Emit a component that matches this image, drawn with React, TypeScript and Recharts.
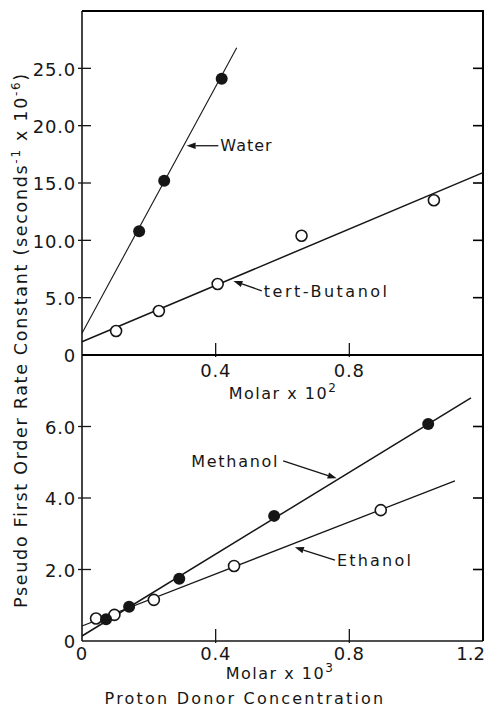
import React from 'react';
import { ScatterChart, Scatter, XAxis, YAxis, ReferenceLine } from 'recharts';

const FONT = '"DejaVu Sans", Verdana, sans-serif';
const INK = '#161616';
const EDGE = 'black';

// upper panel (Molar x 10^2)
const waterX = [0.171, 0.246, 0.418];
const waterY = [10.8, 15.2, 24.1];
const butanolX = [0.102, 0.23, 0.406, 0.657, 1.053];
const butanolY = [2.09, 3.84, 6.19, 10.4, 13.5];
const waterFitX = [0, 0.463];
const waterFitY = [1.9, 26.8];
const butanolFitX = [0, 1.2];
const butanolFitY = [1.16, 15.9];
const upperYTicks = [0, 5, 10, 15, 20, 25];
const upperYLabels = ['0', '5.0', '10.0', '15.0', '20.0', '25.0'];
const upperRightTicks = [5, 10, 15, 20, 25];
const upperXTicks = [0.4, 0.8];
const upperXLabels = ['0.4', '0.8'];
const upperYMax = 30;

// lower panel (Molar x 10^3)
const methanolX = [0.072, 0.141, 0.291, 0.575, 1.036];
const methanolY = [0.61, 0.96, 1.74, 3.5, 6.07];
const ethanolX = [0.042, 0.097, 0.215, 0.455, 0.894];
const ethanolY = [0.63, 0.73, 1.15, 2.1, 3.66];
const methanolFitX = [0, 1.164];
const methanolFitY = [0.14, 6.8];
const ethanolFitX = [0, 1.116];
const ethanolFitY = [0.42, 4.48];
const lowerYTicks = [0, 2, 4, 6];
const lowerYLabels = ['0', '2.0', '4.0', '6.0'];
const lowerRightTicks = [2, 4, 6];
const lowerXTicks = [0, 0.4, 0.8, 1.2];
const lowerXLabels = ['0', '0.4', '0.8', '1.2'];
const lowerYMax = 8;

const xMax = 1.2;

// arrow notes: tail (next to text) -> head (on the line)
const upperNotes = [
  { text: 'Water', tail: [0.408, 18.25], head: [0.313, 18.25], anchor: 'start', spacing: 1 },
  { text: 'tert-Butanol', tail: [0.538, 5.6], head: [0.453, 6.45], anchor: 'start', spacing: 2.5 },
];
const lowerNotes = [
  { text: 'Methanol', tail: [0.602, 5.04], head: [0.762, 4.55], anchor: 'end', spacing: 1.7 },
  { text: 'Ethanol', tail: [0.757, 2.26], head: [0.637, 2.62], anchor: 'start', spacing: 2.2 },
];

const pts = (xs: number[], ys: number[]) => xs.map((x, i) => ({ x, y: ys[i] }));
const framePts = (yMax: number) => [
  { x: 0, y: yMax },
  { x: xMax, y: yMax },
  { x: xMax, y: 0 },
];
const rightTickPts = (ticks: number[]) => ticks.map((t) => ({ x: xMax, y: t }));

const Filled = (p: any) => <circle cx={p.cx} cy={p.cy} r={6} fill={INK} />;
const Open = (p: any) => (
  <circle cx={p.cx} cy={p.cy} r={5.5} fill="#fff" stroke={INK} strokeWidth={1.6} />
);
const NoDot = () => <g />;
const InTick = (p: any) => (
  <line x1={p.cx - 10} x2={p.cx} y1={p.cy} y2={p.cy} stroke={EDGE} strokeWidth={1.6} />
);

const txt = { fontFamily: FONT, fill: INK } as const;

const leftTick = (ticks: number[], labels: string[]) => (p: any) => {
  const v = p.payload.value;
  return (
    <g>
      {v !== 0 && <line x1={p.x - 4} x2={p.x + 9} y1={p.y} y2={p.y} stroke={INK} strokeWidth={1.3} />}
      <text x={p.x - 6} y={p.y + 1} dy="0.36em" textAnchor="end" fontSize={18} letterSpacing={0.8} {...txt}>
        {labels[ticks.indexOf(v)]}
      </text>
    </g>
  );
};

const bottomTick = (ticks: number[], labels: string[], off: number, showLine: number[]) => (p: any) => {
  const v = p.payload.value;
  const last = v === xMax;
  return (
    <g>
      {showLine.includes(v) && <line x1={p.x} x2={p.x} y1={p.y - 12} y2={p.y + 2} stroke={INK} strokeWidth={1.3} />}
      <text
        x={last ? p.x + 2 : p.x}
        y={p.y + off}
        dy="0.36em"
        textAnchor={last ? 'end' : 'middle'}
        fontSize={18}
        letterSpacing={last ? 0 : 0.8}
        {...txt}
      >
        {labels[ticks.indexOf(v)]}
      </text>
    </g>
  );
};

const noteShape = (n: any) => (p: any) => {
  const { x1, y1, x2, y2 } = p;
  const ang = Math.atan2(y2 - y1, x2 - x1);
  const L = 9;
  const W = 3.2;
  const bx = x2 - L * Math.cos(ang);
  const by = y2 - L * Math.sin(ang);
  const nx = -Math.sin(ang) * W;
  const ny = Math.cos(ang) * W;
  const tx = n.anchor === 'end' ? x1 - 4 : x1 + 2;
  return (
    <g>
      <line x1={x1} y1={y1} x2={bx} y2={by} stroke={INK} strokeWidth={1.3} />
      <polygon points={`${x2},${y2} ${bx + nx},${by + ny} ${bx - nx},${by - ny}`} fill={INK} />
      <text x={tx} y={y1} dy="0.36em" textAnchor={n.anchor} fontSize={16} letterSpacing={n.spacing} {...txt}>
        {n.text}
      </text>
    </g>
  );
};

const edgeShape = (p: any) => (
  <line x1={p.x1} y1={p.y1} x2={p.x2} y2={p.y2} stroke={EDGE} strokeWidth={2} />
);

const edges = (yMax: number) => [
  { k: 'top', seg: [{ x: 0, y: yMax }, { x: xMax, y: yMax }] },
  { k: 'right', seg: [{ x: xMax, y: 0 }, { x: xMax, y: yMax }] },
];

const xTitle = (main: string, sup: string, cx: number, cy: number) => (
  <text x={cx} y={cy} textAnchor="middle" fontSize={16} letterSpacing={1.5} {...txt}>
    {main}
    <tspan fontSize={12} dy={-7}>{sup}</tspan>
  </text>
);

export default function App() {
  const W = 486;
  return (
    <div style={{ position: 'absolute', left: 0, top: 0, width: W, height: 707, background: '#fff' }}>
      <svg width={W} height={707} style={{ position: 'absolute', left: 0, top: 0 }}>
        {xTitle('Molar  x  10', '2', 283, 399)}
        {xTitle('Molar  x  10', '3', 280, 679)}
        <text x={245} y={704} textAnchor="middle" fontSize={16} letterSpacing={2.2} {...txt}>
          Proton Donor Concentration
        </text>
        <text
          transform="translate(27 340) rotate(-90)"
          textAnchor="middle"
          fontSize={17.5}
          letterSpacing={1.7}
          {...txt}
        >
          Pseudo First Order Rate Constant (seconds
          <tspan fontSize={12} dy={-7}>-1</tspan>
          <tspan dy={7}> x 10</tspan>
          <tspan fontSize={12} dy={-7}>-6</tspan>
          <tspan dy={7}>)</tspan>
        </text>
      </svg>
      <div style={{ position: 'absolute', left: 0, top: 0 }}>
        <ScatterChart width={W} height={410} margin={{ top: 11, right: 3, bottom: 0, left: 0 }}>
          <XAxis
            type="number"
            dataKey="x"
            domain={[0, xMax]}
            ticks={upperXTicks}
            interval={0}
            tickSize={0}
            tickMargin={0}
            height={55}
            axisLine={{ stroke: INK, strokeWidth: 1.6 }}
            tickLine={false}
            tick={bottomTick(upperXTicks, upperXLabels, 16, upperXTicks)}
          />
          <YAxis
            type="number"
            dataKey="y"
            domain={[0, upperYMax]}
            ticks={upperYTicks}
            interval={0}
            tickSize={0}
            tickMargin={0}
            width={82}
            axisLine={{ stroke: INK, strokeWidth: 1.6 }}
            tickLine={false}
            tick={leftTick(upperYTicks, upperYLabels)}
          />
          <Scatter data={framePts(upperYMax)} line={{ stroke: EDGE, strokeWidth: 2 }} shape={NoDot} isAnimationActive={false} />
          <Scatter data={rightTickPts(upperRightTicks)} shape={InTick} isAnimationActive={false} />
          <Scatter data={pts(waterFitX, waterFitY)} line={{ stroke: INK, strokeWidth: 1.1 }} shape={NoDot} isAnimationActive={false} />
          <Scatter data={pts(butanolFitX, butanolFitY)} line={{ stroke: INK, strokeWidth: 1.5 }} shape={NoDot} isAnimationActive={false} />
          <Scatter data={pts(waterX, waterY)} shape={Filled} isAnimationActive={false} />
          <Scatter data={pts(butanolX, butanolY)} shape={Open} isAnimationActive={false} />
          {upperNotes.map((n) => (
            <ReferenceLine
              key={n.text}
              ifOverflow="visible"
              segment={[{ x: n.tail[0], y: n.tail[1] }, { x: n.head[0], y: n.head[1] }]}
              shape={noteShape(n)}
            />
          ))}
          {edges(upperYMax).map((e) => (
            <ReferenceLine key={e.k} ifOverflow="visible" segment={e.seg} shape={edgeShape} />
          ))}
        </ScatterChart>
      </div>
      <div style={{ position: 'absolute', left: 0, top: 0 }}>
        <ScatterChart width={W} height={707} margin={{ top: 355, right: 3, bottom: 0, left: 0 }}>
          <XAxis
            type="number"
            dataKey="x"
            domain={[0, xMax]}
            ticks={lowerXTicks}
            interval={0}
            tickSize={0}
            tickMargin={0}
            height={66}
            axisLine={{ stroke: INK, strokeWidth: 1.6 }}
            tickLine={false}
            tick={bottomTick(lowerXTicks, lowerXLabels, 13, [0.4, 0.8])}
          />
          <YAxis
            type="number"
            dataKey="y"
            domain={[0, lowerYMax]}
            ticks={lowerYTicks}
            interval={0}
            tickSize={0}
            tickMargin={0}
            width={82}
            axisLine={{ stroke: INK, strokeWidth: 1.6 }}
            tickLine={false}
            tick={leftTick(lowerYTicks, lowerYLabels)}
          />
          <Scatter data={framePts(lowerYMax)} line={{ stroke: EDGE, strokeWidth: 2 }} shape={NoDot} isAnimationActive={false} />
          <Scatter data={rightTickPts(lowerRightTicks)} shape={InTick} isAnimationActive={false} />
          <Scatter data={pts(methanolFitX, methanolFitY)} line={{ stroke: INK, strokeWidth: 1.5 }} shape={NoDot} isAnimationActive={false} />
          <Scatter data={pts(ethanolFitX, ethanolFitY)} line={{ stroke: INK, strokeWidth: 1.3 }} shape={NoDot} isAnimationActive={false} />
          <Scatter data={pts(ethanolX, ethanolY)} shape={Open} isAnimationActive={false} />
          <Scatter data={pts(methanolX, methanolY)} shape={Filled} isAnimationActive={false} />
          {lowerNotes.map((n) => (
            <ReferenceLine
              key={n.text}
              ifOverflow="visible"
              segment={[{ x: n.tail[0], y: n.tail[1] }, { x: n.head[0], y: n.head[1] }]}
              shape={noteShape(n)}
            />
          ))}
          {edges(lowerYMax).map((e) => (
            <ReferenceLine key={e.k} ifOverflow="visible" segment={e.seg} shape={edgeShape} />
          ))}
        </ScatterChart>
      </div>
    </div>
  );
}
